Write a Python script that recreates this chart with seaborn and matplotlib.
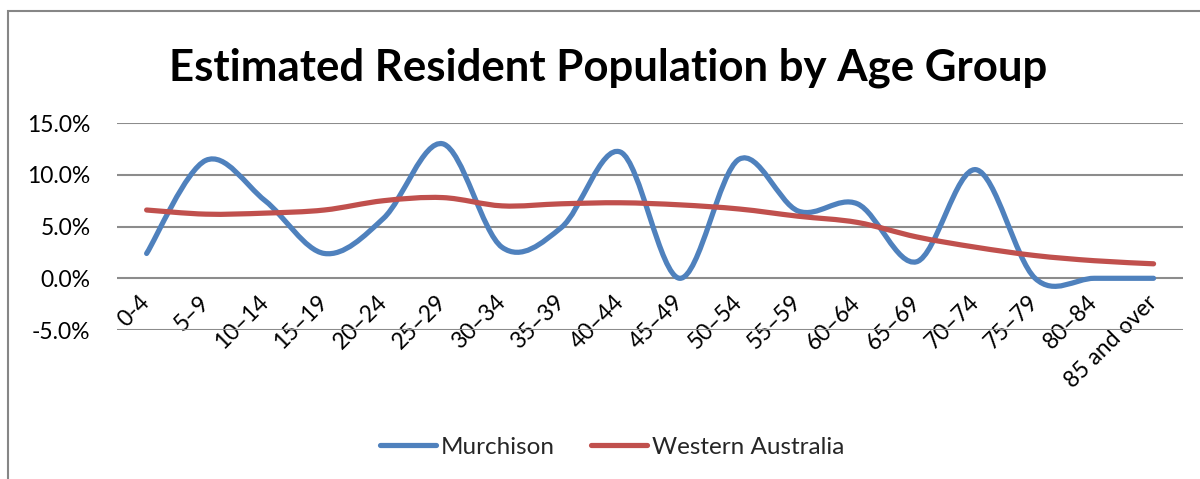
import matplotlib
matplotlib.use("Agg")
import matplotlib.pyplot as plt
import seaborn as sns
import pandas as pd
import numpy as np
from matplotlib.path import Path
from matplotlib.patches import PathPatch, Rectangle
from matplotlib.lines import Line2D

# ---- data (percent of population) ----
age_groups = ["0-4", "5\u20139", "10\u201314", "15\u201319", "20\u201324", "25\u201329",
              "30\u201334", "35\u201339", "40\u201344", "45\u201349", "50\u201354", "55\u201359",
              "60\u201364", "65\u201369", "70\u201374", "75\u201379", "80\u201384", "85 and over"]
murchison = [2.4, 11.4, 7.5, 2.4, 5.8, 13.0, 3.0, 4.9, 12.2, 0.0, 11.5, 6.5,
             7.2, 1.6, 10.5, 0.0, 0.0, 0.0]
western_australia = [6.6, 6.2, 6.3, 6.6, 7.5, 7.8, 7.0, 7.2, 7.3, 7.1, 6.7, 6.0,
                     5.4, 4.0, 3.0, 2.2, 1.7, 1.4]
series_names = ["Murchison", "Western Australia"]
series_colors = ["#4F81BD", "#C0504D"]
y_ticks = [-5, 0, 5, 10, 15]
title = "Estimated Resident Population by Age Group"

pos = list(range(len(age_groups)))
df = pd.DataFrame({
    "pos": pos * 2,
    "value": murchison + western_australia,
    "series": [series_names[0]] * len(pos) + [series_names[1]] * len(pos),
})

sns.set_theme(style="white")
plt.rcParams['font.family'] = ['Lato', 'DejaVu Sans']

fig = plt.figure(figsize=(12, 4.79), dpi=100)
ax = fig.add_axes([0.0975, 0.311, 0.8885, 0.432])

sns.lineplot(data=df, x="pos", y="value", hue="series", hue_order=series_names,
             palette=series_colors, linewidth=3.75, ax=ax, legend=False, sort=False)

# Excel-style smoothed rendering of the seaborn lines (cubic Bezier through the points)
def smooth_path(xs, ys):
    pts = np.column_stack([xs, ys])
    n = len(pts)
    verts = [pts[0]]
    codes = [Path.MOVETO]
    for i in range(n - 1):
        p_prev = pts[i - 1] if i > 0 else pts[i]
        p0 = pts[i]
        p1 = pts[i + 1]
        p_next = pts[i + 2] if i + 2 < n else pts[i + 1]
        c1 = p0 + (p1 - p_prev) / 6.0
        c2 = p1 - (p_next - p0) / 6.0
        verts += [c1, c2, p1]
        codes += [Path.CURVE4] * 3
    return Path(verts, codes)

for line in list(ax.lines):
    xs, ys = line.get_xdata(), line.get_ydata()
    patch = PathPatch(smooth_path(np.asarray(xs, float), np.asarray(ys, float)),
                      facecolor="none", edgecolor=line.get_color(), lw=3.75,
                      capstyle="round", joinstyle="round", zorder=3)
    ax.add_patch(patch)
    line.set_visible(False)

ax.set_xlim(-0.5, len(age_groups) - 0.5)
ax.set_ylim(-5, 15)
ax.set_yticks(y_ticks)
ax.set_yticklabels([f"{v:.1f}%" for v in y_ticks])
ax.set_xticks(pos)
ax.set_xticklabels(age_groups)
ax.set_xlabel("")
ax.set_ylabel("")

ax.grid(axis="y", color="#8c8c8c", linewidth=1.5)
ax.set_axisbelow(True)
for s in ["left", "right", "top"]:
    ax.spines[s].set_visible(False)
ax.spines["bottom"].set_position(("data", 0))
ax.spines["bottom"].set_visible(False)

ax.tick_params(axis="y", length=0, pad=19, labelsize=16.5, labelcolor="black")
ax.tick_params(axis="x", length=0, pad=15, labelsize=16.5, labelcolor="black")
for lab in ax.get_xticklabels():
    lab.set_rotation(45)
    lab.set_ha("right")
    lab.set_va("center")
    lab.set_rotation_mode("anchor")

fig.text(0.507, 1 - 80 / 479, title, ha="center", va="baseline",
         fontsize=31.5, fontweight="bold", color="black")

handles = [Line2D([0], [0], color=c, lw=3.75, solid_capstyle="round") for c in series_colors]
fig.legend(handles, series_names, loc="center", bbox_to_anchor=(612 / 1200, 1 - 447 / 479),
           ncol=2, frameon=False, fontsize=17.5, handlelength=2.3, handletextpad=0.2,
           columnspacing=1.5)

fig.patches.append(Rectangle((8 / 1200, -0.1), 1.2, (1 - 11 / 479) + 0.1,
                             transform=fig.transFigure, fill=False,
                             edgecolor="#868686", lw=1.5))

fig.savefig("out.png", dpi=100)
